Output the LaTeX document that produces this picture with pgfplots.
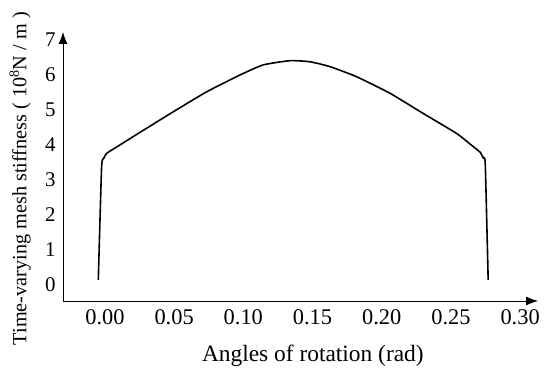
\documentclass[border=0pt]{standalone}
\usepackage{pgfplots}
\pgfplotsset{compat=1.18}
\usepackage{fontspec}
\setmainfont{Liberation Serif}
\usetikzlibrary{arrows.meta}
\begin{document}
\begin{tikzpicture}
\begin{axis}[
  scale only axis,
  width=475bp, height=269bp,
  xmin=-0.0303, xmax=0.3129,
  ymin=-0.46, ymax=7.23,
  axis lines=left,
  x axis line style={line width=0.8bp, -{Latex[length=12bp,width=9bp]}},
  y axis line style={line width=0.8bp, -{Latex[length=12bp,width=9bp]}},
  major tick length=0pt,
  xtick={0,0.05,0.10,0.15,0.20,0.25,0.30},
  ytick={0,1,2,3,4,5,6,7},
  /pgf/number format/assume math mode=true,
  xticklabel style={/pgf/number format/fixed,/pgf/number format/fixed zerofill,/pgf/number format/precision=2,font=\fontsize{22.5}{23}\selectfont, yshift=-5bp},
  yticklabel style={font=\fontsize{21}{22}\selectfont, xshift=-4bp},
  xlabel={Angles of rotation (rad)},
  ylabel={Time-varying mesh stiffness ( 10\textsuperscript{8}N / m )},
  xlabel style={font=\fontsize{23.5}{24}\selectfont, at={(axis description cs:0.526,0)}, anchor=center, yshift=-55bp},
  ylabel style={font=\fontsize{20.3}{21}\selectfont, at={(axis description cs:0,0.455)}, anchor=center, yshift=43bp},
  clip=false,
]
\addplot[black, line width=1.6bp, line join=round, smooth, tension=0.3] coordinates {
(-0.0048,0.14) (-0.0024,3.38) (-0.0008,3.62) (0.0012,3.76) (0.0108,4.0)
(0.0253,4.36) (0.0494,4.95) (0.0735,5.52) (0.0975,6.0) (0.1144,6.29) (0.1337,6.41)
(0.148,6.38) (0.1626,6.24) (0.1819,5.95) (0.2059,5.48) (0.23,4.90) (0.2541,4.33)
(0.2637,4.03) (0.2709,3.80) (0.2735,3.62) (0.2748,3.45) (0.2769,0.14)
};
\end{axis}
\path (current axis.south west) ++(-63bp,-75bp) rectangle ++(550bp,376bp);
\end{tikzpicture}
\end{document}
